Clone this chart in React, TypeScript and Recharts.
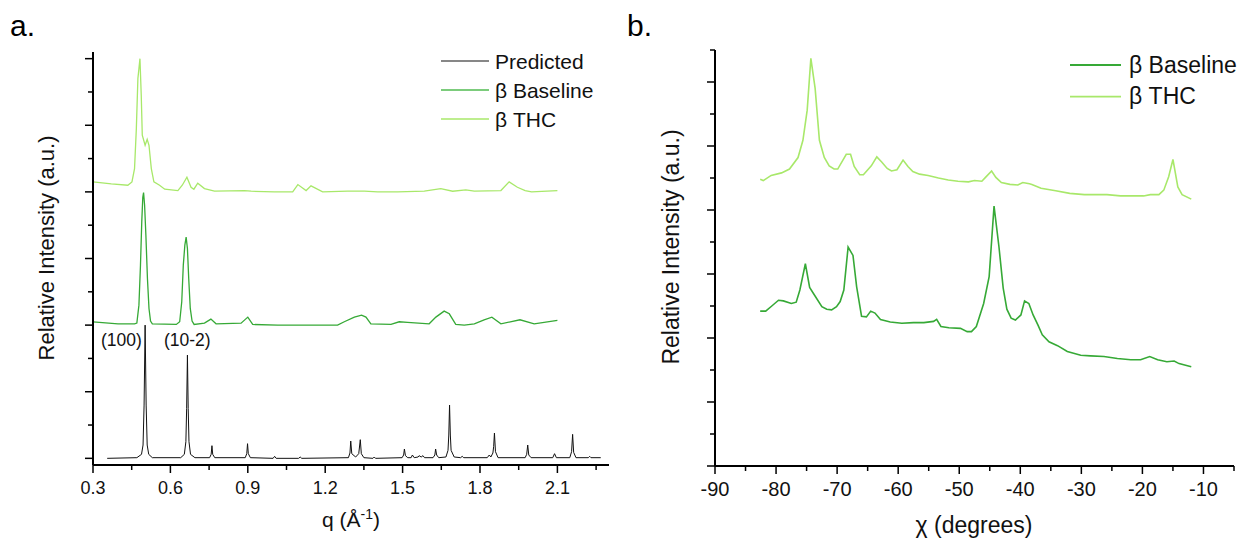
import React from 'react';
import { LineChart, Line, XAxis, YAxis } from 'recharts';

const FONT = '"Liberation Sans", Arial, Helvetica, sans-serif';

// ---- panel a: q (Å^-1) ----
const qTicks = [0.3, 0.45, 0.6, 0.75, 0.9, 1.05, 1.2, 1.35, 1.5, 1.65, 1.8, 1.95, 2.1, 2.25];
const qTickLabels = ['0.3', '0.6', '0.9', '1.2', '1.5', '1.8', '2.1'];
const aYTicks = [0, 0.5, 1, 1.5, 2, 2.5, 3, 3.5, 4, 4.5, 5, 5.5, 6];

const predictedQ = [
  0.355, 0.47, 0.488, 0.494, 0.498, 0.502, 0.506, 0.51, 0.516, 0.53,
  0.64, 0.654, 0.66, 0.663, 0.666, 0.669, 0.672, 0.678, 0.695,
  0.752, 0.758, 0.761, 0.764, 0.772,
  0.89, 0.896, 0.899, 0.902, 0.91,
  0.998, 1.004, 1.01,
  1.097, 1.103, 1.109,
  1.29, 1.296, 1.299, 1.303, 1.318, 1.33, 1.336, 1.34, 1.35,
  1.385, 1.39, 1.395,
  1.498, 1.504, 1.507, 1.511, 1.52,
  1.533, 1.538, 1.545, 1.56, 1.564, 1.572, 1.579, 1.585,
  1.618, 1.625, 1.628, 1.632, 1.64,
  1.668, 1.676, 1.679, 1.682, 1.685, 1.688, 1.7,
  1.725, 1.731, 1.737,
  1.828, 1.836, 1.842, 1.85, 1.853, 1.856, 1.86, 1.87,
  1.975, 1.981, 1.985, 1.989, 1.998,
  2.082, 2.089, 2.096,
  2.148, 2.155, 2.159, 2.163, 2.172,
  2.22, 2.225, 2.23, 2.268,
];
const predictedI = [
  0, 0.01, 0.06, 0.2, 0.8, 2.0, 0.8, 0.2, 0.06, 0.01,
  0.01, 0.06, 0.25, 0.75, 1.55, 0.75, 0.25, 0.06, 0.01,
  0.01, 0.06, 0.19, 0.06, 0.01,
  0.01, 0.07, 0.22, 0.07, 0.01,
  0, 0.03, 0,
  0, 0.02, 0,
  0.01, 0.08, 0.26, 0.07, 0.02, 0.07, 0.28, 0.07, 0.01,
  0, 0.02, 0,
  0.01, 0.05, 0.14, 0.04, 0.01,
  0.01, 0.05, 0.01, 0.02, 0.04, 0.02, 0.04, 0.01,
  0.01, 0.05, 0.14, 0.05, 0.01,
  0.02, 0.12, 0.35, 0.8, 0.35, 0.12, 0.02,
  0.01, 0.03, 0.01,
  0.01, 0.05, 0.02, 0.08, 0.18, 0.38, 0.1, 0.01,
  0.01, 0.06, 0.2, 0.05, 0.01,
  0.01, 0.07, 0.01,
  0.01, 0.1, 0.36, 0.09, 0.01,
  0.01, 0.03, 0.01, 0.01,
];

const baselineQ = [
  0.3, 0.397, 0.461, 0.47, 0.478, 0.484, 0.489, 0.493, 0.496, 0.5,
  0.505, 0.511, 0.517, 0.523, 0.53, 0.623, 0.636, 0.644, 0.65, 0.656,
  0.661, 0.666, 0.671, 0.677, 0.684, 0.692, 0.732, 0.757, 0.777, 0.874,
  0.9, 0.919, 1.016, 1.171, 1.248, 1.274, 1.313, 1.341, 1.358, 1.377,
  1.455, 1.487, 1.519, 1.603, 1.629, 1.661, 1.681, 1.706, 1.739, 1.778,
  1.816, 1.846, 1.881, 1.955, 2.01, 2.1,
];
const baselineI = [
  2.05, 2.02, 2.02, 2.03, 2.3, 2.9, 3.55, 3.92, 3.99, 3.8,
  3.35, 2.7, 2.25, 2.06, 2.02, 2.01, 2.05, 2.35, 2.9, 3.2,
  3.32, 3.15, 2.7, 2.25, 2.06, 2.01, 2.03, 2.09, 2.02, 2.03,
  2.12, 2.01, 2.0, 2.0, 2.0, 2.05, 2.12, 2.15, 2.12, 2.02,
  2.01, 2.05, 2.04, 2.02, 2.12, 2.21, 2.17, 2.01, 2.0, 2.02,
  2.08, 2.12, 2.02, 2.08, 2.02, 2.07,
];

const thcQ = [
  0.3, 0.371, 0.435, 0.451, 0.461, 0.468, 0.474, 0.482, 0.487, 0.491,
  0.502, 0.51, 0.517, 0.526, 0.536, 0.558, 0.578, 0.629, 0.646, 0.664,
  0.68, 0.691, 0.706, 0.732, 0.771, 0.887, 0.913, 1.003, 1.074, 1.094,
  1.126, 1.145, 1.19, 1.287, 1.352, 1.403, 1.481, 1.584, 1.648, 1.694,
  1.745, 1.778, 1.881, 1.913, 1.945, 1.975, 2.0, 2.1,
];
const thcI = [
  4.15, 4.12, 4.1, 4.15, 4.35, 4.95, 5.7, 6.0, 5.45, 4.85,
  4.7, 4.79, 4.7, 4.35, 4.15, 4.1, 4.04, 4.02, 4.1, 4.22,
  4.07, 4.04, 4.13, 4.05, 4.01, 4.02, 4.01, 4.0, 4.0, 4.11,
  4.02, 4.09, 4.0, 4.01, 4.01, 4.0, 4.0, 4.01, 4.05, 4.01,
  4.03, 4.01, 4.02, 4.15, 4.07, 4.02, 4.0, 4.02,
];

// ---- panel b: chi (degrees) ----
const chiTicks = [-90, -85, -80, -75, -70, -65, -60, -55, -50, -45, -40, -35, -30, -25, -20, -15, -10, -5];
const chiTickLabels = ['-90', '-80', '-70', '-60', '-50', '-40', '-30', '-20', '-10'];
const bYTicks = [0, 0.5, 1, 1.5, 2, 2.5, 3, 3.5, 4, 4.5, 5, 5.5, 6, 6.5];

const chiBaseline = [
  -82.6, -81.7, -80.7, -79.6, -78.8, -77.5, -76.7, -76.1, -75.2, -74.5,
  -73.9, -72.5, -71.7, -70.9, -70.1, -69.5, -68.9, -68.2, -67.4, -66.8,
  -66.0, -65.2, -64.5, -63.8, -62.9, -61.3, -59.4, -57.5, -55.8, -54.2,
  -53.7, -53.0, -51.7, -49.8, -48.7, -48.0, -47.2, -46.0, -45.1, -44.3,
  -43.5, -42.8, -42.2, -41.5, -40.8, -39.9, -39.3, -38.6, -37.9, -37.1,
  -36.4, -35.3, -33.9, -32.3, -30.1, -28.5, -26.3, -24.1, -21.9, -20.3,
  -18.8, -17.5, -16.0, -14.8, -14.0, -12.0,
];
const intBaseline = [
  2.42, 2.42, 2.5, 2.59, 2.58, 2.54, 2.56, 2.75, 3.16, 2.79,
  2.7, 2.49, 2.45, 2.44, 2.49, 2.57, 2.75, 3.42, 3.29, 2.8,
  2.34, 2.33, 2.42, 2.39, 2.29, 2.25, 2.23, 2.24, 2.24, 2.26,
  2.29, 2.18, 2.16, 2.15, 2.1, 2.1, 2.18, 2.54, 2.96, 4.06,
  3.43, 2.78, 2.45, 2.31, 2.28, 2.36, 2.58, 2.54, 2.36, 2.2,
  2.05, 1.94, 1.88, 1.79, 1.73, 1.72, 1.71, 1.68, 1.66, 1.66,
  1.71, 1.66, 1.63, 1.64, 1.6, 1.55,
];

const chiTHC = [
  -82.6, -82.1, -80.8, -79.1, -77.8, -76.4, -75.6, -74.9, -74.3, -73.6,
  -72.9, -72.1, -71.3, -70.5, -69.9, -68.5, -67.8, -67.2, -66.3, -65.7,
  -64.4, -63.5, -62.7, -61.8, -61.1, -60.2, -59.2, -58.4, -57.6, -56.5,
  -55.1, -53.4, -51.8, -50.2, -48.5, -47.5, -46.3, -45.7, -44.7, -44.0,
  -43.1, -41.7, -40.4, -39.6, -38.5, -38.1, -36.6, -34.2, -31.9, -29.5,
  -25.8, -23.6, -19.8, -18.7, -17.3, -16.5, -15.7, -15.0, -14.2, -13.5,
  -12.0,
];
const intTHC = [
  4.48, 4.46, 4.54, 4.58, 4.64, 4.82, 5.09, 5.56, 6.37, 5.9,
  5.09, 4.82, 4.69, 4.64, 4.64, 4.87, 4.87, 4.68, 4.55, 4.55,
  4.69, 4.83, 4.75, 4.65, 4.61, 4.63, 4.78, 4.68, 4.6, 4.56,
  4.54, 4.5, 4.47, 4.45, 4.44, 4.46, 4.45, 4.51, 4.61, 4.51,
  4.43, 4.4, 4.39, 4.43, 4.41, 4.4, 4.34, 4.3, 4.26, 4.24,
  4.24, 4.22, 4.22, 4.24, 4.24, 4.31, 4.52, 4.79, 4.36, 4.24,
  4.17,
];

const zip = (xs: number[], ys: number[]) => xs.map((x, i) => ({ x, y: ys[i] }));

const BLACK = '#111111';
const GREEN = '#36a936';
const LIGHT = '#a8e86a';

const xTick = (labels: string[], start: number, step: number, fontSize: number, dy: number) =>
  (props: any) => {
    const { x, y, payload } = props;
    const k = (payload.value - start) / step;
    const major = Math.abs(k - Math.round(k)) < 1e-6;
    return (
      <g>
        <line x1={x} x2={x} y1={y} y2={y + (major ? 8 : 5)} stroke="#000" strokeWidth={1.5} />
        {major && (
          <text x={x} y={y + dy} textAnchor="middle" fontSize={fontSize} fontFamily={FONT} fill="#111">
            {labels[Math.round(k)]}
          </text>
        )}
      </g>
    );
  };

const yTick = (props: any) => {
  const { x, y, payload } = props;
  const major = Number.isInteger(payload.value);
  return <line x1={x} x2={x - (major ? 8 : 5)} y1={y} y2={y} stroke="#000" strokeWidth={1.5} />;
};

const axisLine = { stroke: '#000', strokeWidth: 2 };

export default function App() {
  return (
    <div style={{ position: 'absolute', left: 0, top: 0, width: 1244, height: 544, background: '#fff', fontFamily: FONT }}>
      <div style={{ position: 'absolute', left: 0, top: 0 }}>
        <LineChart width={622} height={544} margin={{ top: 52, right: 13, bottom: 19, left: 53 }}>
          <XAxis
            type="number"
            dataKey="x"
            domain={[0.3, 2.3]}
            ticks={qTicks}
            interval={0}
            tickSize={0}
            tickMargin={0}
            tickLine={false}
            axisLine={axisLine}
            height={60}
            allowDataOverflow
            tick={xTick(qTickLabels, 0.3, 0.3, 18, 29)}
          />
          <YAxis
            type="number"
            domain={[-0.1, 6.1]}
            ticks={aYTicks}
            interval={0}
            tickSize={0}
            tickMargin={0}
            tickLine={false}
            axisLine={axisLine}
            width={40}
            allowDataOverflow
            tick={yTick}
          />
          <Line data={zip(predictedQ, predictedI)} dataKey="y" type="linear" stroke={BLACK} strokeWidth={1} dot={false} isAnimationActive={false} />
          <Line data={zip(baselineQ, baselineI)} dataKey="y" type="linear" stroke={GREEN} strokeWidth={1.3} dot={false} isAnimationActive={false} />
          <Line data={zip(thcQ, thcI)} dataKey="y" type="linear" stroke={LIGHT} strokeWidth={1.3} dot={false} isAnimationActive={false} />
        </LineChart>
      </div>

      <div style={{ position: 'absolute', left: 622, top: 0 }}>
        <LineChart width={622} height={544} margin={{ top: 50, right: 10, bottom: 18, left: 53 }}>
          <XAxis
            type="number"
            dataKey="x"
            domain={[-90, -5]}
            ticks={chiTicks}
            interval={0}
            tickSize={0}
            tickMargin={0}
            tickLine={false}
            axisLine={axisLine}
            height={60}
            allowDataOverflow
            tick={xTick(chiTickLabels, -90, 10, 20, 30)}
          />
          <YAxis
            type="number"
            domain={[0, 6.5]}
            ticks={bYTicks}
            interval={0}
            tickSize={0}
            tickMargin={0}
            tickLine={false}
            axisLine={axisLine}
            width={40}
            allowDataOverflow
            tick={yTick}
          />
          <Line data={zip(chiBaseline, intBaseline)} dataKey="y" type="linear" stroke={GREEN} strokeWidth={1.6} dot={false} isAnimationActive={false} />
          <Line data={zip(chiTHC, intTHC)} dataKey="y" type="linear" stroke={LIGHT} strokeWidth={1.6} dot={false} isAnimationActive={false} />
        </LineChart>
      </div>

      <svg width={1244} height={544} style={{ position: 'absolute', left: 0, top: 0, pointerEvents: 'none' }} fontFamily={FONT}>
        <text x={10} y={36} fontSize={30} fill="#000">a.</text>
        <text x={627} y={36} fontSize={30} fill="#000">b.</text>

        {/* panel a legend */}
        <line x1={441} x2={489} y1={61} y2={61} stroke={BLACK} strokeWidth={1.2} />
        <text x={495} y={68.5} fontSize={21} fill="#111">Predicted</text>
        <line x1={441} x2={489} y1={90} y2={90} stroke="#7ccc7c" strokeWidth={2} />
        <text x={495} y={97.5} fontSize={21} fill="#111">β Baseline</text>
        <line x1={441} x2={489} y1={119} y2={119} stroke={LIGHT} strokeWidth={1.5} />
        <text x={495} y={126.5} fontSize={21} fill="#111">β THC</text>

        <text x={101} y={346} fontSize={17.5} fill="#111">(100)</text>
        <text x={164} y={346} fontSize={17.5} fill="#111">(10-2)</text>

        <text x={351} y={527} fontSize={21} textAnchor="middle" fill="#111">
          q (Å<tspan dy={-8} fontSize={14}>-1</tspan><tspan dy={8}>)</tspan>
        </text>
        <text transform="translate(54,248) rotate(-90)" fontSize={22} textAnchor="middle" fill="#111">
          Relative Intensity (a.u.)
        </text>

        {/* panel b legend */}
        <line x1={1070} x2={1121} y1={65} y2={65} stroke={GREEN} strokeWidth={1.8} />
        <text x={1129} y={72.7} fontSize={23} fill="#111">β Baseline</text>
        <line x1={1070} x2={1121} y1={96.7} y2={96.7} stroke={LIGHT} strokeWidth={1.8} />
        <text x={1129} y={104} fontSize={23} fill="#111">β THC</text>

        <text x={974} y={533} fontSize={23} textAnchor="middle" fill="#111">χ (degrees)</text>
        <text transform="translate(679,247) rotate(-90)" fontSize={23} textAnchor="middle" fill="#111">
          Relative Intensity (a.u.)
        </text>
      </svg>
    </div>
  );
}
